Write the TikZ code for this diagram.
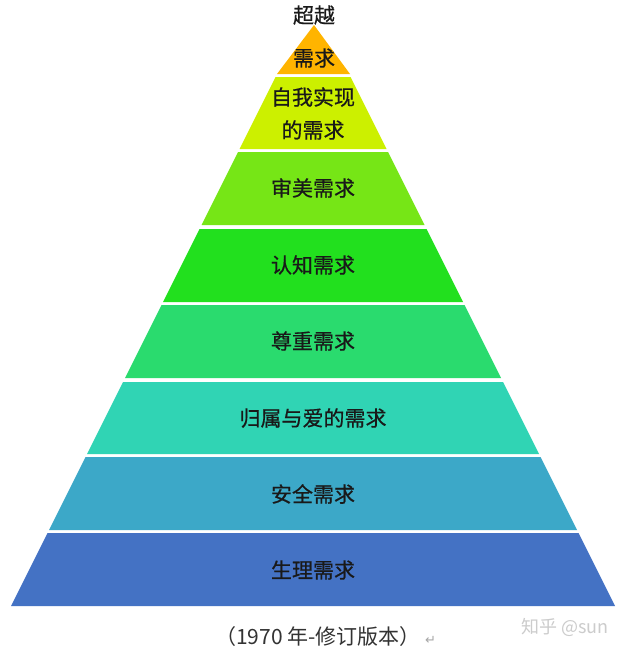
\documentclass[tikz,border=0pt]{standalone}
\usepackage{fontspec}
\setmainfont{Noto Sans CJK SC}
\newfontfamily\lblfont[FakeBold=0.6]{Noto Sans CJK SC}
\newfontfamily\symfont{DejaVu Sans}
\definecolor{lorange}{RGB}{255,180,0}
\definecolor{lyellow}{RGB}{204,240,0}
\definecolor{lgreenA}{RGB}{118,230,22}
\definecolor{lgreenB}{RGB}{34,224,30}
\definecolor{lgreenC}{RGB}{42,219,110}
\definecolor{lteal}{RGB}{48,212,180}
\definecolor{lbluet}{RGB}{60,168,200}
\definecolor{lblue}{RGB}{68,114,196}
\definecolor{txtdark}{RGB}{25,25,25}
\begin{document}
\begin{tikzpicture}[x=1pt,y=-1pt,
  lbl/.style={text=txtdark,font=\lblfont\fontsize{21}{26}\selectfont,inner sep=0pt,align=center},
  capt/.style={text=black!80,font=\fontsize{21}{25}\selectfont,inner sep=0pt},
  wm/.style={text=black!20,font=\fontsize{18}{21}\selectfont,inner sep=0pt}]
\useasboundingbox (0,0) rectangle (628,651);
\fill[white] (0,0) rectangle (628,651);
% layers: corners at 313 +- (y-2)/2
\def\lay#1#2#3{\fill[#1] ({313-(#2-2)/2},#2) -- ({313+(#2-2)/2},#2) -- ({313+(#3-2)/2},#3) -- ({313-(#3-2)/2},#3) -- cycle;}
\fill[lorange] (314,25) -- (350,74) -- (277,74) -- cycle;
\lay{lyellow}{77}{149}
\lay{lgreenA}{152}{225}
\lay{lgreenB}{229}{302}
\lay{lgreenC}{305}{378}
\lay{lteal}{382}{454}
\lay{lbluet}{457}{530}
\lay{lblue}{533}{606}
\node[lbl] (t0) at (314,15) {超越};
\node[lbl] (t1) at (314,58) {需求};
\node[lbl] (t2a) at (313,97) {自我实现};
\node[lbl] (t2b) at (313,130) {的需求};
\node[lbl] (t3) at (313,188) {审美需求};
\node[lbl] (t4) at (313,265) {认知需求};
\node[lbl] (t5) at (313,341) {尊重需求};
\node[lbl] (t6) at (313,418) {归属与爱的需求};
\node[lbl] (t7) at (313,494) {安全需求};
\node[lbl] (t8) at (313,570) {生理需求};
\node[capt] (cap) at (318,637) {（1970 年-修订版本）};
\node[text=black!35,font=\symfont\fontsize{13}{15}\selectfont,inner sep=0pt,anchor=west] (ret) at (425,640) {↵};
\node[wm] (wmk) at (565,627) {知乎 @sun};
\end{tikzpicture}
\end{document}
